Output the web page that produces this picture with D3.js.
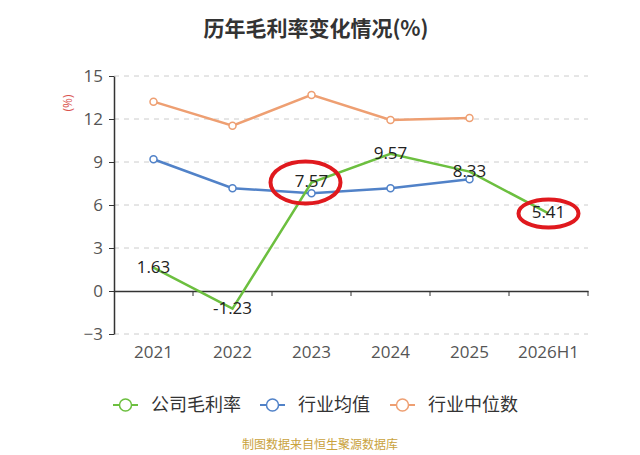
<!DOCTYPE html>
<html lang="zh">
<head>
<meta charset="UTF-8">
<title>历年毛利率变化情况</title>
<script src="https://cdn.jsdelivr.net/npm/d3@7/dist/d3.min.js"></script>
<style>
	body { margin: 0; background: #fff; }
	text { font-family: "Open Sans", "Noto Sans CJK SC", sans-serif; }
	.cjk { font-family: "Noto Sans CJK SC", sans-serif; }
</style>
</head>
<body>
<div id="chart"></div>
<script>
	// data
	var categories = ["2021", "2022", "2023", "2024", "2025", "2026H1"];
	var companyMargin = [1.63, -1.23, 7.57, 9.57, 8.33, 5.41];
	var industryMean = [9.19, 7.17, 6.82, 7.17, 7.79];
	var industryMedian = [13.21, 11.53, 13.68, 11.93, 12.07];
	var yTicks = [-3, 0, 3, 6, 9, 12, 15];
	var seriesNames = ["公司毛利率", "行业均值", "行业中位数"];
	var colors = ["#6cbf3f", "#5182c8", "#ee9f72"];
	var highlighted = ["2023", "2026H1"];

	var width = 640, height = 455;
	var plotLeft = 114, plotRight = 588, plotTop = 76, plotBottom = 334;

	var svg = d3.select("#chart").append("svg")
		.attr("width", width)
		.attr("height", height);

	var x = d3.scaleBand().domain(categories).range([plotLeft, plotRight]);
	var y = d3.scaleLinear().domain([-3, 15]).range([plotBottom, plotTop]);

	// title
	svg.append("text")
		.attr("class", "cjk")
		.attr("x", 316).attr("y", 36)
		.attr("text-anchor", "middle")
		.attr("font-size", 21).attr("font-weight", "bold")
		.attr("fill", "#333")
		.text("历年毛利率变化情况(%)");

	// unit label
	svg.append("text")
		.attr("transform", "translate(72,103) rotate(-90)")
		.attr("text-anchor", "middle")
		.attr("font-size", 12)
		.attr("fill", "#d9534f")
		.text("(%)");

	// grid
	svg.append("g").selectAll("line")
		.data(yTicks.filter(function(d){ return d !== 0; }))
		.enter().append("line")
		.attr("x1", plotLeft).attr("x2", plotRight)
		.attr("y1", function(d){ return y(d); })
		.attr("y2", function(d){ return y(d); })
		.attr("stroke", "#ccc")
		.attr("stroke-dasharray", "5,5");

	// y axis
	var yAxis = svg.append("g")
		.attr("transform", "translate(" + plotLeft + ",0)")
		.call(d3.axisLeft(y).tickValues(yTicks).tickSize(5).tickPadding(6).tickSizeOuter(0));
	yAxis.select(".domain").attr("stroke", "#333").attr("stroke-width", 1.5);
	yAxis.selectAll(".tick line").attr("stroke", "#333");
	yAxis.selectAll("text").attr("font-size", 17).attr("fill", "#555");

	// x axis along zero
	var xAxis = svg.append("g")
		.attr("transform", "translate(0," + y(0) + ")")
		.call(d3.axisBottom(x).tickSize(0).tickFormat(""));
	xAxis.select(".domain").attr("stroke", "#333").attr("stroke-width", 1.5);
	xAxis.selectAll(".bnd").data(categories).enter().append("line")
		.attr("x1", function(d){ return x(d) + x.bandwidth(); })
		.attr("x2", function(d){ return x(d) + x.bandwidth(); })
		.attr("y1", 0).attr("y2", 5)
		.attr("stroke", "#333");

	svg.append("g").selectAll("text")
		.data(categories).enter().append("text")
		.attr("x", function(d){ return x(d) + x.bandwidth() / 2; })
		.attr("y", plotBottom + 24)
		.attr("text-anchor", "middle")
		.attr("font-size", 17)
		.attr("fill", "#555")
		.text(function(d){ return d; });

	var line = d3.line()
		.x(function(d, i){ return x(categories[i]) + x.bandwidth() / 2; })
		.y(function(d){ return y(d); });

	function drawSeries(values, color, markers) {
		svg.append("path")
			.datum(values)
			.attr("fill", "none")
			.attr("stroke", color)
			.attr("stroke-width", 2.5)
			.attr("d", line);
		if (markers) {
			svg.append("g").selectAll("circle")
				.data(values).enter().append("circle")
				.attr("cx", function(d, i){ return x(categories[i]) + x.bandwidth() / 2; })
				.attr("cy", function(d){ return y(d); })
				.attr("r", 3.5)
				.attr("fill", "#fff")
				.attr("stroke", color)
				.attr("stroke-width", 1.5);
		}
	}

	drawSeries(industryMedian, colors[2], true);
	drawSeries(industryMean, colors[1], true);
	drawSeries(companyMargin, colors[0], false);

	// value labels
	svg.append("g").selectAll("text")
		.data(companyMargin).enter().append("text")
		.attr("x", function(d, i){ return x(categories[i]) + x.bandwidth() / 2; })
		.attr("y", function(d){ return y(d) + 5; })
		.attr("text-anchor", "middle")
		.attr("font-size", 17)
		.attr("fill", "#222")
		.text(function(d){ return d.toFixed(2); });

	// red highlight ellipses
	var ellipseSize = { "2023": [35, 21, -6], "2026H1": [30, 14, 0] };
	svg.append("g").selectAll("ellipse")
		.data(highlighted).enter().append("ellipse")
		.attr("cx", function(d){ return x(d) + x.bandwidth() / 2 + ellipseSize[d][2]; })
		.attr("cy", function(d){ return y(companyMargin[categories.indexOf(d)]); })
		.attr("rx", function(d){ return ellipseSize[d][0]; })
		.attr("ry", function(d){ return ellipseSize[d][1]; })
		.attr("fill", "none")
		.attr("stroke", "#e0191e")
		.attr("stroke-width", 4);

	// legend
	var legendX = [113, 260, 390];
	var lg = svg.append("g").selectAll("g")
		.data(seriesNames).enter().append("g")
		.attr("transform", function(d, i){ return "translate(" + legendX[i] + ",405)"; });
	lg.append("line")
		.attr("x1", 0).attr("x2", 25)
		.attr("stroke", function(d, i){ return colors[i]; })
		.attr("stroke-width", 2);
	lg.append("circle")
		.attr("cx", 12.5).attr("r", 6)
		.attr("fill", "#fff")
		.attr("stroke", function(d, i){ return colors[i]; })
		.attr("stroke-width", 1.5);
	lg.append("text")
		.attr("class", "cjk")
		.attr("x", 38).attr("y", 6)
		.attr("font-size", 18)
		.attr("fill", "#333")
		.text(function(d){ return d; });

	// source
	svg.append("text")
		.attr("class", "cjk")
		.attr("x", 320).attr("y", 449)
		.attr("text-anchor", "middle")
		.attr("font-size", 12)
		.attr("fill", "#c9a23c")
		.text("制图数据来自恒生聚源数据库");
</script>
</body>
</html>
